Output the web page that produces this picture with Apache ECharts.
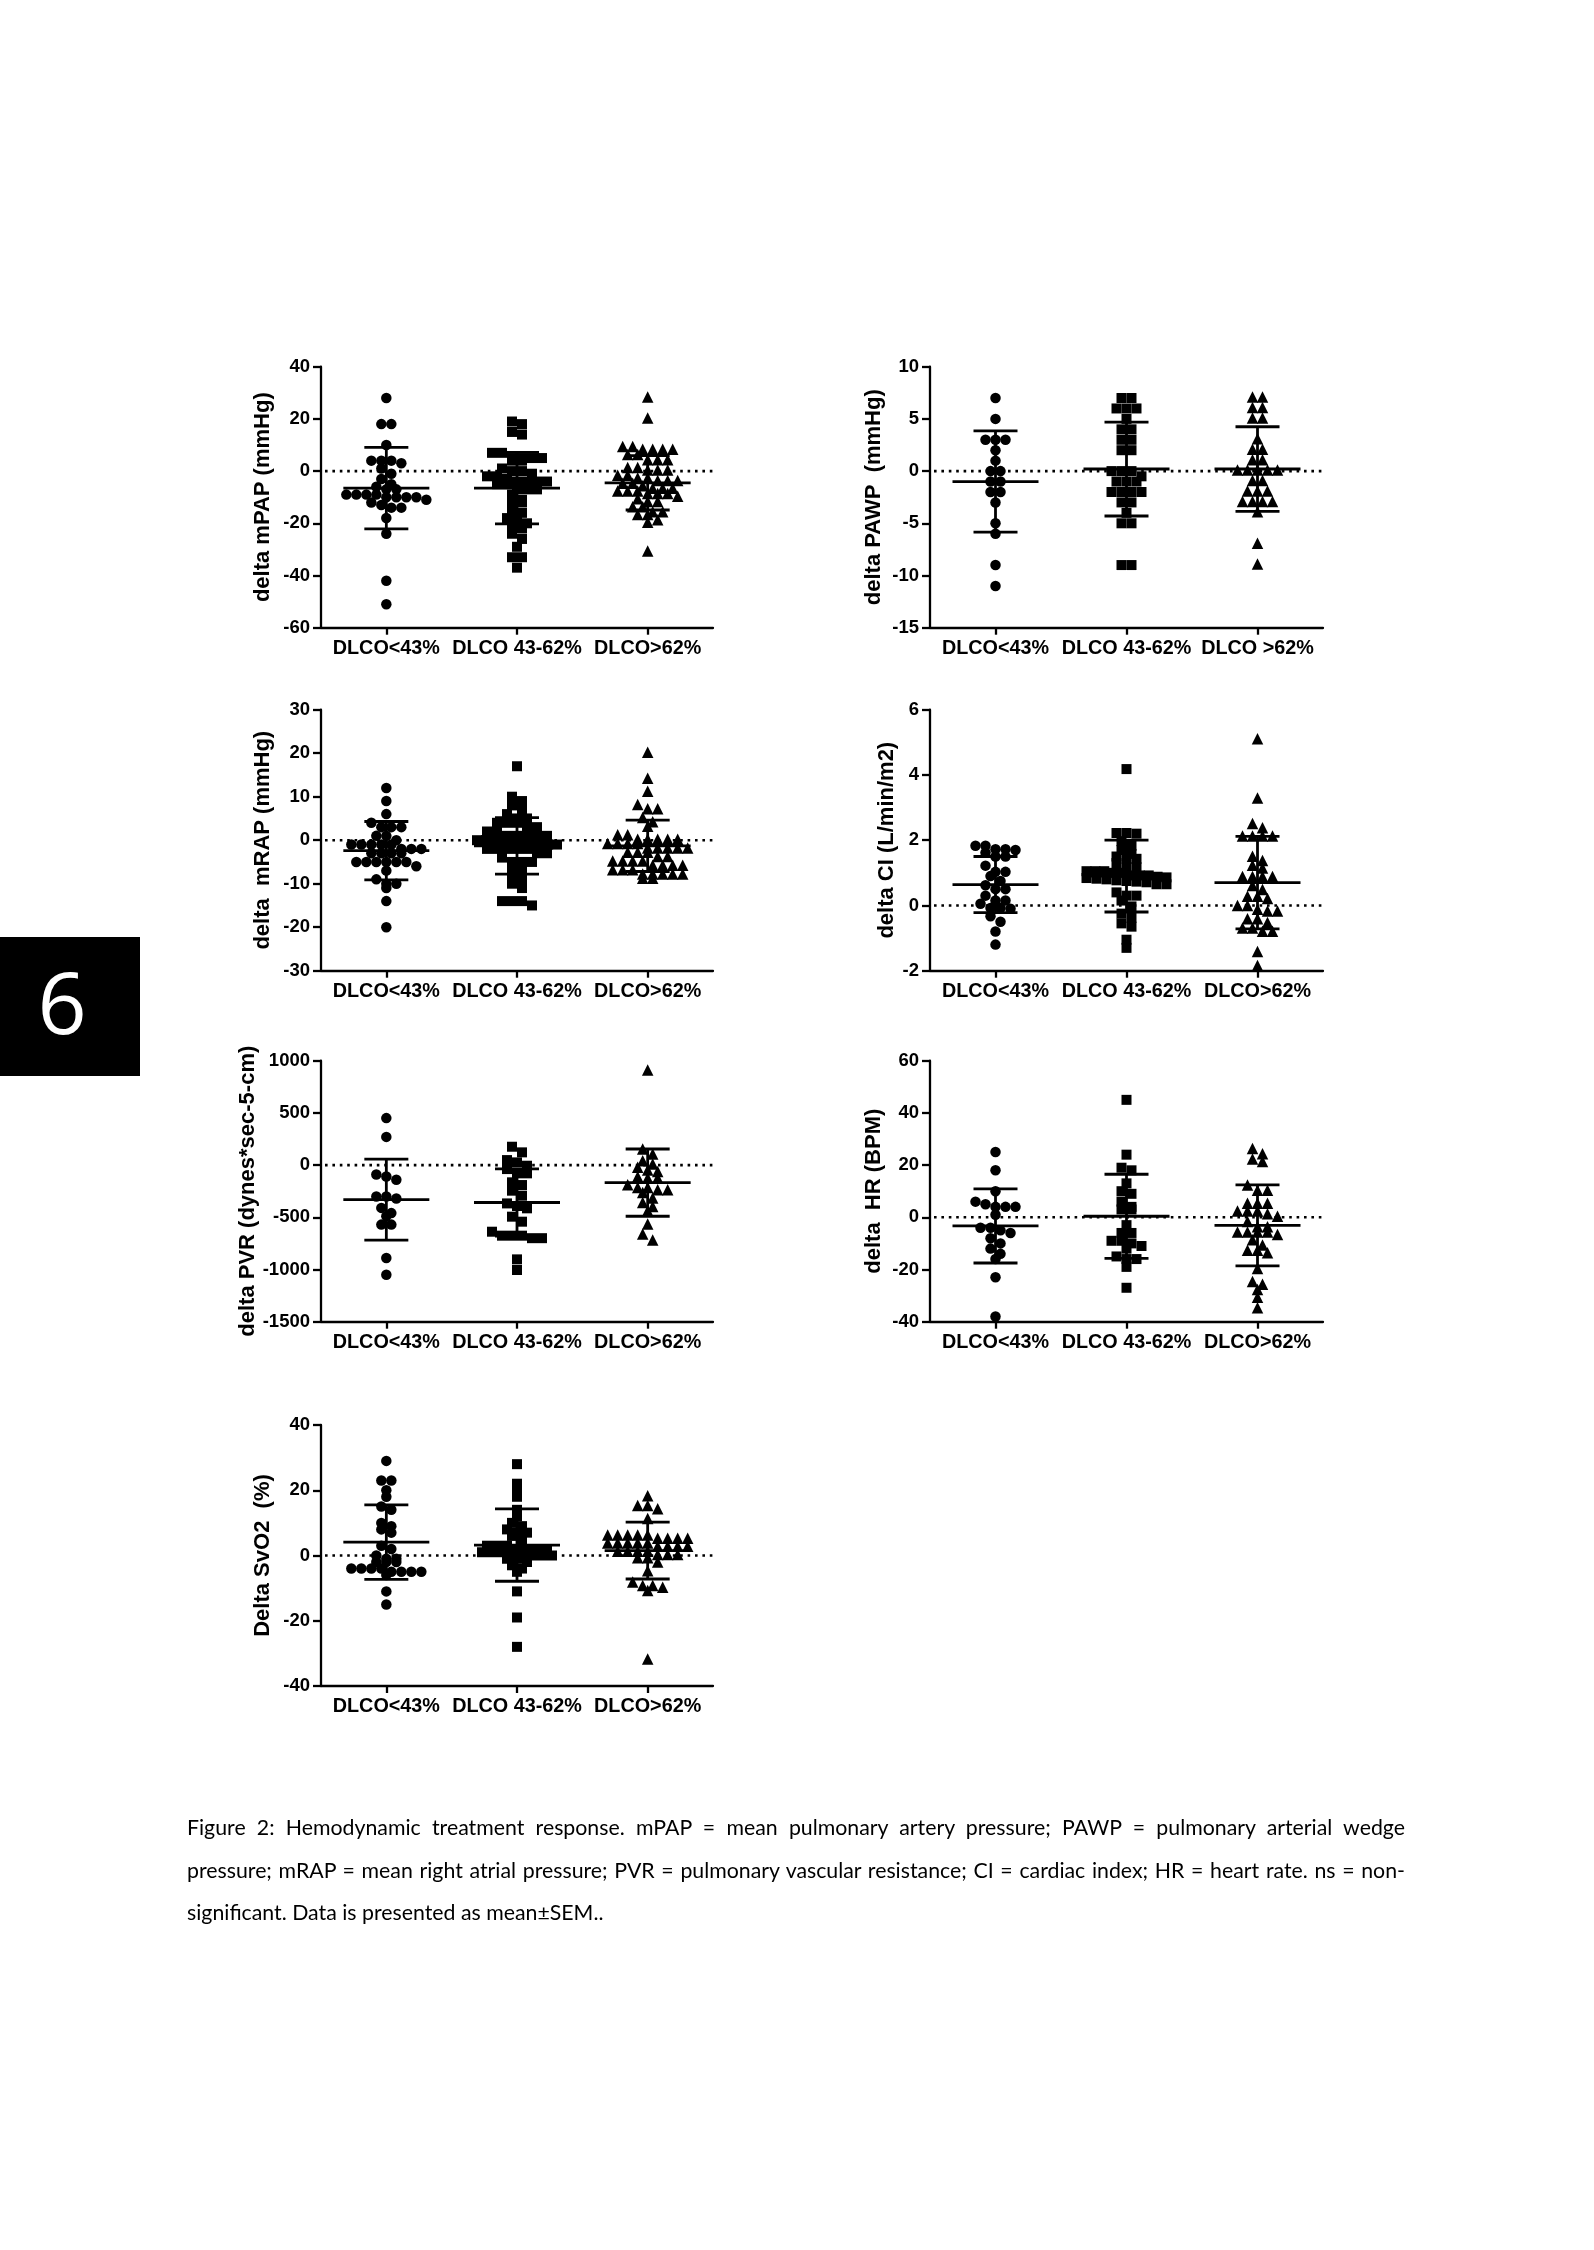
<!DOCTYPE html>
<html>
<head>
<meta charset="utf-8">
<script src="https://cdn.jsdelivr.net/npm/echarts@6/dist/echarts.min.js"></script>
<style>
html,body{margin:0;padding:0;background:#fff;}
#chart{position:absolute;left:0;top:0;width:1594px;height:2250px;}
#caption{position:absolute;left:187px;top:1806px;width:1218px;font-family:'Lato','Open Sans',sans-serif;font-size:21.3px;line-height:42.5px;color:#000;}
.j{text-align:justify;text-align-last:justify;white-space:nowrap;}
.l{white-space:nowrap;}
</style>
</head>
<body>
<div id="chart"></div>
<div id="caption">
<div class="j">Figure 2: Hemodynamic treatment response. mPAP = mean pulmonary artery pressure; PAWP = pulmonary arterial wedge</div>
<div class="j">pressure; mRAP = mean right atrial pressure; PVR = pulmonary vascular resistance; CI = cardiac index; HR = heart rate. ns = non-</div>
<div class="l">significant. Data is presented as mean±SEM..</div>
</div>
<script>
// ---------- data ----------
const categories = ['DLCO<43%', 'DLCO 43-62%', 'DLCO>62%'];
const categoriesPAWP = ['DLCO<43%', 'DLCO 43-62%', 'DLCO >62%'];

const mpapTicks = [-60, -40, -20, 0, 20, 40];
const mpapLow = [28, 18, 18, 10, 4, 3, 4, 4, 1, -1, -3, -5, -6, -7, -7, -9, -9, -10, -10, -9, -10, -10, -9, -11, -12, -13, -14, -14, -18, -24, -42, -51];
const mpapMid = [19, 18, 15, 14, 7, 7, 5, 5, 5, 5, 4, 4, 1, 0, 0, -1, -2, -2, -3, -4, -4, -4, -4, -5, -5, -7, -7, -7, -9, -11, -12, -12, -15, -16, -18, -18, -20, -21, -22, -24, -26, -29, -33, -33, -37];
const mpapHigh = [28, 20, 9, 8, 8, 9, 8, 8, 6, 6, 4, 4, 4, 1, 0, 0, 1, 0, -2, -2, -3, -3, -4, -4, -4, -5, -6, -5, -7, -7, -8, -8, -7, -8, -9, -9, -9, -10, -11, -12, -12, -14, -14, -16, -16, -17, -17, -19, -20, -31];
const mpapMean = [-6.5, -6.5, -4.5];
const mpapSD = [15.6, 13.7, 10.4];

const pawpTicks = [-15, -10, -5, 0, 5, 10];
const pawpLow = [7, 5, 3, 3, 3, 2, 1, 0, 0, -1, -1, -2, -2, -3, -5, -6, -9, -11];
const pawpMid = [7, 7, 6, 6, 6, 5, 4, 4, 3, 3, 2, 2, 0, 0, 0, -0.5, -1, -1, -1, -2, -2, -2, -2, -3, -3, -4, -5, -5, -9, -9];
const pawpHigh = [7, 7, 6, 6, 5, 5, 3, 2, 2, 1, 1, 0, 0, 0, 0, 0, -1, -1, -2, -2, -2, -3, -3, -3, -3, -4, -7, -9];
const pawpMean = [-1, 0.2, 0.2];
const pawpSD = [4.85, 4.5, 4.05];

const mrapTicks = [-30, -20, -10, 0, 10, 20, 30];
const mrapLow = [12, 9, 6, 4, 3, 3, 3, 1, 1, 0, -1, -1, -1, -1, -1, -2, -2, -2, -3, -3, -3, -3, -5, -5, -5, -5, -5, -5, -6, -7, -9, -10, -10, -11, -14, -20];
const mrapMid = [17, 10, 9, 8, 7, 6, 5, 5, 4, 4, 4, 3, 3, 2, 2, 1, 1, 1, 1, 1, 0, 0, 0, 0, 0, -1, -1, -1, -1, -1, -2, -2, -2, -2, -2, -3, -3, -4, -5, -5, -5, -6, -7, -8, -9, -10, -11, -14, -14, -14, -15];
const mrapHigh = [20, 14, 11, 8, 7, 7, 5, 4, 3, 1, 1, 0, 0, 0, 0, 0, -1, -1, -1, -1, -2, -2, -2, -2, -2, -3, -3, -3, -4, -4, -5, -5, -5, -5, -6, -6, -6, -6, -7, -7, -7, -8, -8, -8, -8, -8, -9, -9];
const mrapMean = [-2.4, -1.3, -1.3];
const mrapSD = [6.7, 6.5, 5.9];

const ciTicks = [-2, 0, 2, 4, 6];
const ciLow = [1.83, 1.83, 1.72, 1.72, 1.7, 1.62, 1.5, 1.5, 1.22, 1.03, 1.03, 0.9, 0.75, 0.62, 0.5, 0.5, 0.3, 0.15, 0.15, 0.05, -0.08, -0.08, -0.1, -0.33, -0.5, -0.8, -1.2];
const ciMid = [4.18, 2.22, 2.22, 2.2, 1.97, 1.83, 1.7, 1.58, 1.5, 1.43, 1.43, 1.3, 1.17, 1.17, 1.05, 1.05, 1.05, 1.0, 1.0, 0.92, 0.92, 0.92, 0.88, 0.86, 0.84, 0.82, 0.8, 0.77, 0.75, 0.73, 0.71, 0.65, 0.65, 0.4, 0.3, 0.3, 0.15, -0.03, -0.25, -0.38, -0.55, -0.65, -1.05, -1.3];
const ciHigh = [5.08, 3.26, 2.48, 2.35, 2.1, 2.1, 2.1, 2.1, 1.48, 1.35, 1.2, 1.12, 0.86, 0.86, 0.86, 0.86, 0.58, 0.46, 0.25, 0.25, 0.18, -0.03, -0.03, -0.15, -0.2, -0.2, -0.44, -0.44, -0.55, -0.72, -0.72, -0.82, -0.82, -1.44, -1.87];
const ciMean = [0.64, 0.9, 0.7];
const ciSD = [0.86, 1.1, 1.42];

const pvrTicks = [-1500, -1000, -500, 0, 500, 1000];
const pvrLow = [450, 270, -90, -110, -140, -300, -320, -300, -410, -460, -490, -570, -570, -890, -1050];
const pvrMid = [176, 122, 48, 26, -6, -38, -79, -79, -165, -191, -245, -293, -367, -392, -414, -494, -542, -638, -676, -676, -676, -700, -700, -903, -1005];
const pvrHigh = [901, 144, 96, 33, 1, -31, -57, -70, -120, -133, -133, -197, -223, -223, -245, -245, -271, -325, -367, -405, -446, -574, -670, -727];
const pvrMean = [-330, -358, -168];
const pvrSD = [388, 322, 322];

const hrTicks = [-40, -20, 0, 20, 40, 60];
const hrLow = [25, 18, 10, 6, 5, 4, 4, 4, 1, -4, -4, -5, -6, -8, -10, -12, -14, -16, -23, -38];
const hrMid = [45, 24, 19, 18, 13, 10, 9, 6, 4, 3, 3, -3, -6, -6, -9, -9, -10, -11, -12, -15, -16, -16, -19, -27];
const hrHigh = [26, 24, 22, 21, 12, 10, 10, 5, 5, 5, 2, 2, 2, 1, 0, -2, -4, -4, -6, -6, -6, -6, -7, -9, -11, -13, -13, -14, -20, -25, -26, -28, -31, -35];
const hrMean = [-3.3, 0.4, -3.1];
const hrSD = [14.2, 16.1, 15.5];

const svo2Ticks = [-40, -20, 0, 20, 40];
const svo2Low = [29, 23, 23, 20, 18, 15, 14, 10, 9, 8, 7, 3, 2, 0, -1, -1, -2, -2, -2, -4, -4, -4, -4, -5, -5, -5, -5, -6, -11, -15];
const svo2Mid = [28, 22, 20, 18, 14, 12, 10, 9, 8, 7, 7, 6, 5, 3, 3, 3, 2, 2, 2, 2, 1, 1, 1, 1, 1, 0, 0, 0, -1, -1, -2, -3, -4, -5, -11, -19, -28];
const svo2High = [18, 15, 15, 14, 11, 6, 6, 6, 6, 6, 5, 5, 5, 5, 3.5, 3.5, 3.5, 3.5, 3.5, 2.5, 2.5, 2.5, 2.5, 1, 1, 1, 1, 0, 0, 0, -1, -1, -2.3, -5, -8.4, -9.5, -10, -9.5, -11, -32];
const svo2Mean = [4.1, 3.2, 1.5];
const svo2SD = [11.4, 11.1, 8.7];

// ---------- panels (content) ----------
const panels = [
  { title: 'delta mPAP (mmHg)', cats: categories, groups: [mpapLow, mpapMid, mpapHigh], mean: mpapMean, sd: mpapSD, ticks: mpapTicks },
  { title: 'delta PAWP  (mmHg)', cats: categoriesPAWP, groups: [pawpLow, pawpMid, pawpHigh], mean: pawpMean, sd: pawpSD, ticks: pawpTicks },
  { title: 'delta  mRAP (mmHg)', cats: categories, groups: [mrapLow, mrapMid, mrapHigh], mean: mrapMean, sd: mrapSD, ticks: mrapTicks },
  { title: 'delta CI (L/min/m2)', cats: categories, groups: [ciLow, ciMid, ciHigh], mean: ciMean, sd: ciSD, ticks: ciTicks },
  { title: 'delta PVR (dynes*sec-5-cm)', cats: categories, groups: [pvrLow, pvrMid, pvrHigh], mean: pvrMean, sd: pvrSD, ticks: pvrTicks },
  { title: 'delta  HR (BPM)', cats: categories, groups: [hrLow, hrMid, hrHigh], mean: hrMean, sd: hrSD, ticks: hrTicks },
  { title: 'Delta SvO2  (%)', cats: categories, groups: [svo2Low, svo2Mid, svo2High], mean: svo2Mean, sd: svo2SD, ticks: svo2Ticks }
];

// ---------- layout ----------
const PLOT_H = 261;
const layout = [
  { left: 321, top: 366.7, width: 392, gap: 47 },
  { left: 930, top: 366.7, width: 393, gap: 45 },
  { left: 321, top: 709.7, width: 392, gap: 47 },
  { left: 930, top: 709.7, width: 393, gap: 32 },
  { left: 321, top: 1060.7, width: 392, gap: 62 },
  { left: 930, top: 1060.7, width: 393, gap: 45 },
  { left: 321, top: 1425, width: 392, gap: 47 }
];
const symbols = ['circle', 'rect', 'triangle'];
const symbolSizes = [10.5, 10, 11.5];
const FONT = 'Liberation Sans, Arial, sans-serif';

// deterministic row layout (scatter dot plot): values within rowH pixels share a row,
// each row spread symmetrically around the category centre, capped at maxHalf pixels
function rowOffsets(vals, ppu, rowH, spacing, maxHalf) {
  const order = vals.map((v, i) => i).sort((a, b) => vals[b] - vals[a]);
  const off = new Array(vals.length).fill(0);
  let row = [];
  let rowStart = null;
  const flush = () => {
    const n = row.length;
    const sp = n > 1 ? Math.min(spacing, 2 * maxHalf / (n - 1)) : 0;
    row.forEach((idx, k) => { off[idx] = (k - (n - 1) / 2) * sp; });
    row = [];
  };
  for (const i of order) {
    const y = vals[i] * ppu;
    if (rowStart === null || rowStart - y > rowH) { flush(); rowStart = y; }
    row.push(i);
  }
  flush();
  return off;
}

const grid = [], xAxis = [], yAxis = [], series = [];
const lineStyle = { color: '#000', width: 2.3 };

panels.forEach((p, pi) => {
  const L = layout[pi];
  const min = p.ticks[0], max = p.ticks[p.ticks.length - 1];
  const interval = p.ticks[1] - p.ticks[0];
  grid.push({ left: L.left, top: L.top, width: L.width, height: PLOT_H });
  xAxis.push({
    type: 'category', gridIndex: pi, data: p.cats, boundaryGap: true,
    axisLine: { show: true, onZero: false, lineStyle: lineStyle },
    axisTick: { show: true, alignWithLabel: true, interval: 0, length: 7, lineStyle: lineStyle },
    axisLabel: { color: '#000', fontWeight: 'bold', fontSize: 19.8, fontFamily: FONT, margin: 11, interval: 0 },
    splitLine: { show: false }
  });
  yAxis.push({
    type: 'value', gridIndex: pi, min: min, max: max, interval: interval,
    name: p.title, nameLocation: 'middle', nameGap: L.gap,
    nameTextStyle: { color: '#000', fontWeight: 'bold', fontSize: 22, fontFamily: FONT },
    axisLine: { show: true, onZero: false, lineStyle: lineStyle },
    axisTick: { show: true, length: 8, lineStyle: lineStyle },
    axisLabel: { color: '#000', fontWeight: 'bold', fontSize: 18.5, fontFamily: FONT, margin: 11,
                 formatter: function (v) { return String(v); } },
    splitLine: { show: false }
  });
  // dotted zero reference line
  series.push({
    type: 'custom', xAxisIndex: pi, yAxisIndex: pi, silent: true, z: 1,
    data: [[0, 0]], encode: { x: 0, y: 1 },
    renderItem: function (params, api) {
      const cs = params.coordSys;
      const y0 = api.coord([0, api.value(1)])[1];
      return { type: 'line', shape: { x1: cs.x + 4, y1: y0, x2: cs.x + cs.width, y2: y0 },
               style: { stroke: '#000', lineWidth: 2.6, lineDash: [2.6, 4.8] } };
    }
  });
  const ppu = PLOT_H / (max - min);
  p.groups.forEach((vals, gi) => {
    const offs = rowOffsets(vals, ppu, 6.5, 10, 40);
    series.push({
      type: 'scatter', xAxisIndex: pi, yAxisIndex: pi,
      symbol: symbols[gi], symbolSize: symbolSizes[gi],
      itemStyle: { color: '#000', opacity: 1 },
      silent: true,
      data: vals.map((v, i) => ({ value: [gi, v], symbolOffset: [offs[i], gi === 2 ? -1 : 0] })),
      z: 3
    });
  });
  series.push({
    type: 'custom', xAxisIndex: pi, yAxisIndex: pi, silent: true, z: 4,
    data: p.mean.map((m, gi) => [gi, m, p.sd[gi]]),
    encode: { x: 0, y: 1 },
    renderItem: function (params, api) {
      const gi = api.value(0), m = api.value(1), sd = api.value(2);
      const c = api.coord([gi, m]);
      const t = api.coord([gi, m + sd]);
      const b = api.coord([gi, m - sd]);
      const st = { stroke: '#000', lineWidth: 2.8 };
      return {
        type: 'group',
        children: [
          { type: 'line', shape: { x1: c[0] - 43, y1: c[1], x2: c[0] + 43, y2: c[1] }, style: st },
          { type: 'line', shape: { x1: t[0] - 22, y1: t[1], x2: t[0] + 22, y2: t[1] }, style: st },
          { type: 'line', shape: { x1: b[0] - 22, y1: b[1], x2: b[0] + 22, y2: b[1] }, style: st },
          { type: 'line', shape: { x1: t[0], y1: t[1], x2: b[0], y2: b[1] }, style: st }
        ]
      };
    }
  });
});

const chart = echarts.init(document.getElementById('chart'), null, { renderer: 'canvas' });
chart.setOption({
  animation: false,
  backgroundColor: '#fff',
  grid: grid, xAxis: xAxis, yAxis: yAxis, series: series,
  graphic: [
    { type: 'rect', shape: { x: 0, y: 937, width: 140, height: 139 }, style: { fill: '#000' } },
    { type: 'text', x: 62, y: 1009, style: { text: '6', fill: '#fff', fontSize: 86, fontFamily: 'Open Sans, sans-serif', align: 'center', verticalAlign: 'middle' } }
  ]
});
</script>
</body>
</html>
